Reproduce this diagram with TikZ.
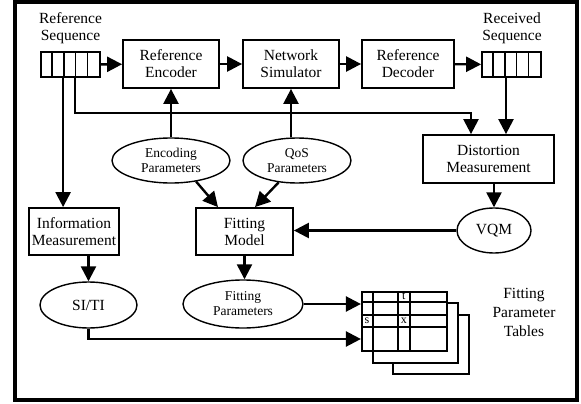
\documentclass[tikz,border=0pt]{standalone}
\usepackage{fontspec}
\setmainfont{Liberation Serif}
\usetikzlibrary{arrows.meta,calc,shapes.geometric}
\newcommand{\boxfont}{\fontsize{15.5}{17}\selectfont}
\newcommand{\ovalfont}{\fontsize{13.5}{15}\selectfont}
\tikzset{
  block/.style    = {draw, line width=1.8pt, minimum height=48pt, inner sep=2pt,
                     align=center, font=\boxfont},
  oval/.style     = {draw, ellipse, line width=1.4pt, minimum height=45pt, inner sep=0pt,
                     align=center, font=\ovalfont},
  seqbox/.style   = {draw, line width=1.8pt, minimum width=59pt, minimum height=25pt, inner sep=0pt},
  tabsheet/.style = {draw, line width=2.2pt, fill=white, inner sep=0pt},
  sig/.style      = {-{Triangle[length=15pt,width=15pt]}, line width=2.4pt},
  cellline/.style = {line width=1.4pt},
  lbl/.style      = {align=center, font=\boxfont, inner sep=0pt},
  cell/.style     = {font=\fontsize{12}{12}\selectfont, inner sep=0pt},
}

\begin{document}
\begin{tikzpicture}[x=1pt,y=-1pt]
  \useasboundingbox (0,0) rectangle (581,404);
  \draw[line width=3.6pt] (15,2) rectangle (577,400);
  % top row
  \node[seqbox] (refseq) at (70.5,64.5) {};
  \node[block, minimum width=96pt] (enc) at (171,64) {Reference\\Encoder};
  \node[block, minimum width=96pt] (net) at (291,64) {Network\\Simulator};
  \node[block, minimum width=92pt] (dec) at (408,64) {Reference\\Decoder};
  \node[seqbox] (recseq) at (511.5,64.5) {};
  \foreach \s in {refseq,recseq}
    \foreach \i in {1,...,4}
      \draw[line width=1.6pt] ([xshift=\i*11.8pt]\s.south west) -- ([xshift=\i*11.8pt]\s.north west);
  \node[lbl] (refseqlbl) at (70.5,28) {Reference\\Sequence};
  \node[lbl] (recseqlbl) at (512,28) {Received\\Sequence};
  % middle
  \node[oval, minimum width=118pt] (encpar) at (171,160.5) {Encoding\\Parameters};
  \node[oval, minimum width=108pt] (qospar) at (297,160.5) {QoS\\Parameters};
  \node[block, minimum width=131pt] (dist) at (488.5,159) {Distortion\\Measurement};
  \node[block, minimum width=90pt, minimum height=47pt] (info) at (74,231.5) {Information\\Measurement};
  \node[block, minimum width=97pt, minimum height=47pt] (fit) at (244.5,231.5) {Fitting\\Model};
  \node[oval, minimum width=74pt, font=\boxfont] (vqm) at (494,230.5) {VQM};
  % bottom
  \node[oval, minimum width=97pt, minimum height=46pt, font=\boxfont] (siti) at (88.5,305) {SI/TI};
  \node[oval, minimum width=120pt, minimum height=48pt] (fitpar) at (243,304) {Fitting\\Parameters};
  \node[tabsheet, minimum width=76pt, minimum height=59pt] (tab3) at (431,344.5) {};
  \node[tabsheet, minimum width=85pt, minimum height=60pt] (tab2) at (415.5,333) {};
  \node[tabsheet, minimum width=85pt, minimum height=59pt] (tab1) at (404.5,321.5) {};
  \foreach \dx in {12,37,49}
    \draw[cellline] ([xshift=\dx pt]tab1.north west) -- ([xshift=\dx pt]tab1.south west);
  \foreach \dy in {11,24,36}
    \draw[cellline] ([yshift=-\dy pt]tab1.north west) -- ([yshift=-\dy pt]tab1.north east);
  \node[cell] (cellt) at ($(tab1.north west)+(43,5.5)$) {t};
  \node[cell] (cells) at ($(tab1.north west)+(6,30)$) {s};
  \node[cell] (cellx) at ($(tab1.north west)+(43,30)$) {x};
  \node[lbl, font=\fontsize{15.5}{19}\selectfont] (tablbl) at (524,312) {Fitting\\Parameter\\Tables};
  % connectors
  \draw[sig] (refseq) -- (enc);
  \draw[sig] (enc) -- (net);
  \draw[sig] (net) -- (dec);
  \draw[sig] (dec) -- (recseq);
  \draw[sig] (encpar) -- (enc);
  \draw[sig] (net.south |- qospar.north) -- (net.south);
  \coordinate (tapinfo) at ([xshift=23pt]refseq.south west);
  \coordinate (tapdist) at ([xshift=35pt]refseq.south west);
  \coordinate (taprec) at ([xshift=-5.5pt]recseq.south);
  \draw[sig] (tapinfo) -- (tapinfo |- info.north);
  \draw[sig] (tapdist) -- ++(0,35) -| ([xshift=-17.5pt]dist.north);
  \draw[sig] (taprec) -- (taprec |- dist.north);
  \draw[sig] (vqm.north |- dist.south) -- (vqm.north);
  \draw[sig] (vqm.west) -- (vqm.west -| fit.east);
  \draw[sig] (encpar.-40) -- ([xshift=-26.5pt]fit.north);
  \draw[sig] (qospar.-130) -- ([xshift=10.5pt]fit.north);
  \draw[sig] (siti.north |- info.south) -- (siti.north);
  \draw[sig] (fit.south) -- (fit.south |- fitpar.north);
  \draw[sig] (fitpar.east) -- (fitpar.east -| tab1.west);
  \draw[sig] (siti.south) |- ([yshift=-17.5pt]tab1.west);
\end{tikzpicture}
\end{document}
